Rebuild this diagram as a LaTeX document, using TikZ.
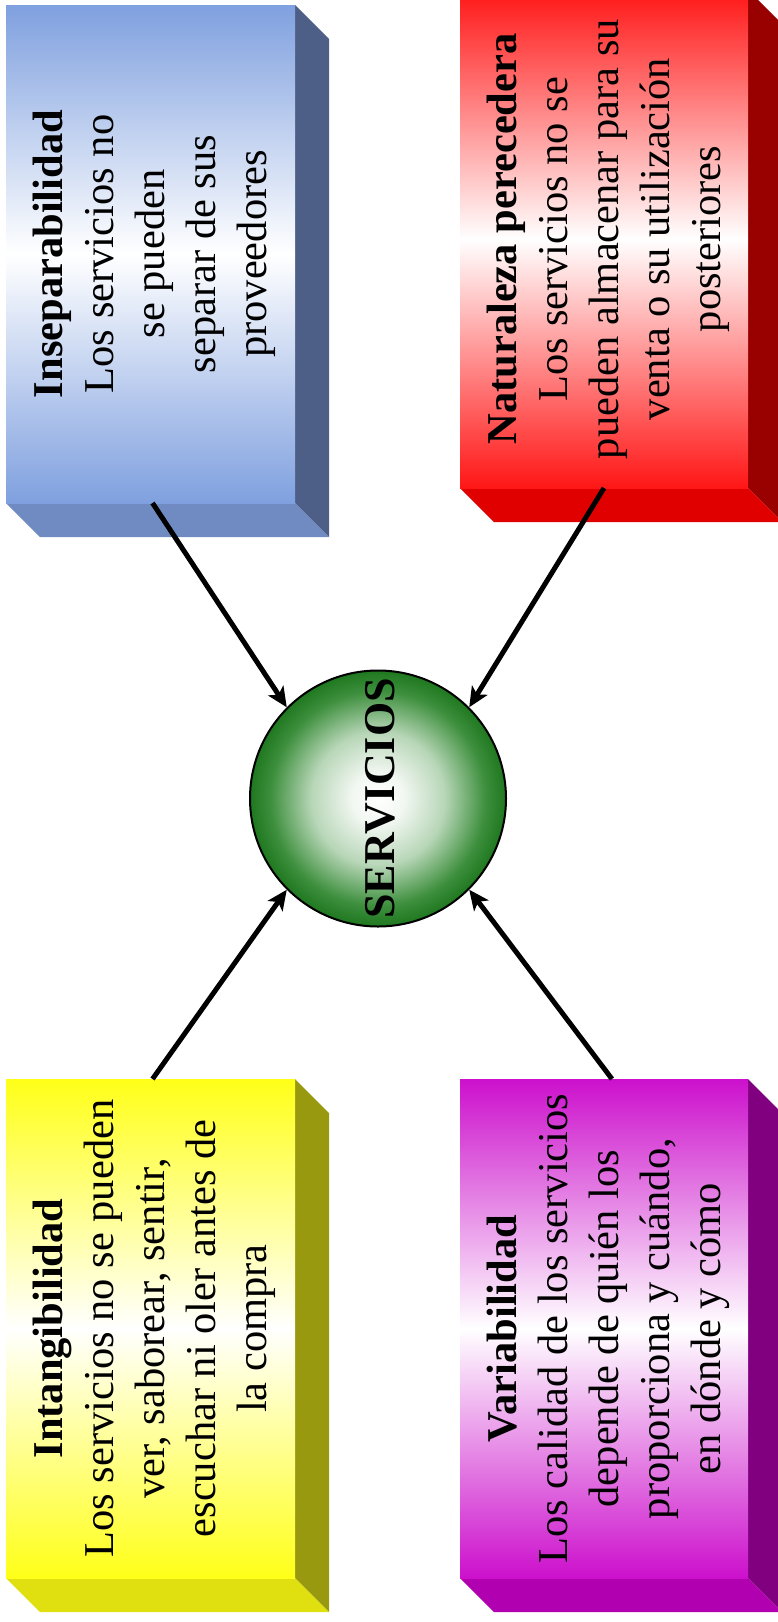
\documentclass[tikz,border=0pt]{standalone}
\usepackage{fontspec}
\setmainfont{Liberation Serif}
\usetikzlibrary{arrows.meta,calc}
\definecolor{bluef}{RGB}{127,160,223}
\definecolor{blueS}{RGB}{77,95,135}
\definecolor{blueB}{RGB}{112,138,194}
\definecolor{redf}{RGB}{255,22,22}
\definecolor{redS}{RGB}{153,0,0}
\definecolor{redB}{RGB}{224,0,0}
\definecolor{yelf}{RGB}{255,255,24}
\definecolor{yelS}{RGB}{153,153,16}
\definecolor{yelB}{RGB}{224,224,16}
\definecolor{purf}{RGB}{204,16,204}
\definecolor{purS}{RGB}{128,0,128}
\definecolor{purB}{RGB}{176,0,176}
\pgfdeclareradialshading{servball}{\pgfpoint{0bp}{0bp}}{rgb(0bp)=(1,1,1); rgb(5bp)=(0.95,0.97,0.95); rgb(13bp)=(0.72,0.84,0.72); rgb(21bp)=(0.24,0.56,0.24); rgb(25bp)=(0.12,0.47,0.12); rgb(50bp)=(0.12,0.47,0.12)}
\tikzset{
  face/.style={rectangle, inner sep=0pt, outer sep=0pt, minimum width=289pt, minimum height=498pt},
  boxtext/.style={rotate=90, align=center, inner sep=0pt, font=\fontsize{42.5}{51}\selectfont},
  arr/.style={line width=5pt, -{Stealth[length=20pt,width=18pt,inset=5pt]}},
}
\begin{document}
\begin{tikzpicture}[x=1pt,y=-1pt]
\useasboundingbox (0,0) rectangle (778,1622);
% blue box (top left)
\fill[blueS] (295,5) -- (329,39) -- (329,537) -- (295,503) -- cycle;
\fill[blueB] (6,503) -- (295,503) -- (329,537) -- (40,537) -- cycle;
\node[face, top color=bluef, bottom color=bluef, middle color=white] (blue) at (150.5,254) {};
\node[boxtext] (blueT) at ($(blue.center)+(4,0)$) {\textbf{Inseparabilidad}\\Los servicios no\\se pueden\\separar de sus\\proveedores};
% red box (top right)
\fill[redS] (748,-10) -- (782,24) -- (782,522) -- (748,488) -- cycle;
\fill[redB] (460,488) -- (748,488) -- (782,522) -- (494,522) -- cycle;
\node[face, top color=redf, bottom color=redf, middle color=white, minimum width=288pt] (red) at (604,239) {};
\node[boxtext] (redT) at ($(red.center)+(4,0)$) {\textbf{Naturaleza perecedera}\\Los servicios no se\\pueden almacenar para su\\venta o su utilización\\posteriores};
% yellow box (bottom left)
\fill[yelS] (295,1079) -- (329,1113) -- (329,1612) -- (295,1578) -- cycle;
\fill[yelB] (6,1578) -- (295,1578) -- (329,1612) -- (40,1612) -- cycle;
\node[face, top color=yelf, bottom color=yelf, middle color=white, minimum height=499pt] (yel) at (150.5,1328.5) {};
\node[boxtext] (yelT) at ($(yel.center)+(4,0)$) {\textbf{Intangibilidad}\\Los servicios no se pueden\\ver, saborear, sentir,\\escuchar ni oler antes de\\la compra};
% purple box (bottom right)
\fill[purS] (748,1079) -- (782,1113) -- (782,1612) -- (748,1578) -- cycle;
\fill[purB] (460,1578) -- (748,1578) -- (782,1612) -- (494,1612) -- cycle;
\node[face, top color=purf, bottom color=purf, middle color=white, minimum width=288pt, minimum height=499pt] (pur) at (604,1328.5) {};
\node[boxtext] (purT) at ($(pur.center)+(4,0)$) {\textbf{Variabilidad}\\Los calidad de los servicios\\depende de quién los\\proporciona y cuándo,\\en dónde y cómo};
% central circle
\node[circle, shading=servball, draw=black, line width=2pt, minimum size=256pt, inner sep=0pt] (circ) at (378,798.5) {};
\node[rotate=90, inner sep=0pt, font=\bfseries\fontsize{44}{51}\selectfont] (circT) at (380,798.5) {SERVICIOS};
% arrows
\draw[arr] ($(blue.south)+(2,0)$) -- (circ.135);
\draw[arr] (red.south) -- (circ.45);
\draw[arr] ($(yel.north)+(2,0)$) -- (circ.225);
\draw[arr] ($(pur.north)+(8,0)$) -- (circ.315);
\end{tikzpicture}
\end{document}
